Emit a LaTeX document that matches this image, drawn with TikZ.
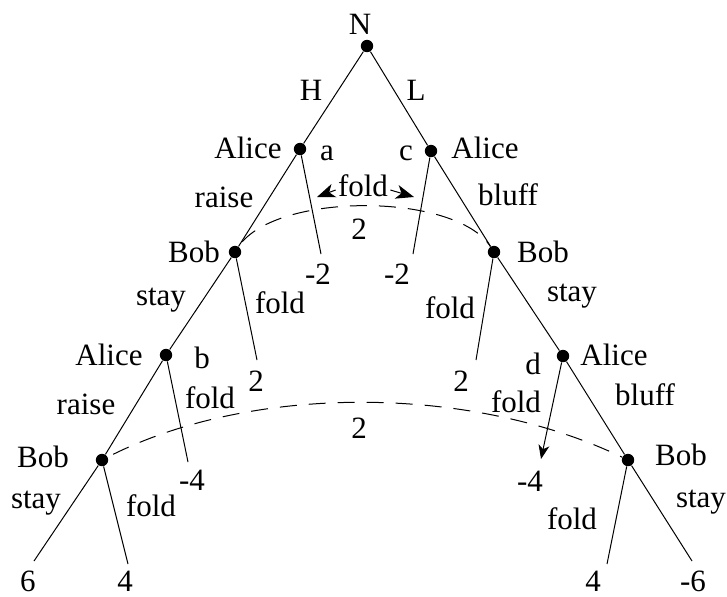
\documentclass[tikz,border=0pt]{standalone}
\usepackage{fontspec}
\setmainfont{Liberation Serif}
\usetikzlibrary{arrows.meta}
\begin{document}
\begin{tikzpicture}[x=0.5pt,y=-0.5pt,
  dot/.style={circle,fill=black,inner sep=0pt,minimum size=6.2pt},
  lbl/.style={inner sep=0pt,font=\fontsize{15.5}{18}\selectfont},
  edge/.style={line width=0.5pt},
  info/.style={line width=0.5pt,dash pattern=on 8.5pt off 6pt,dash phase=-3pt},
  tip/.style={-{Stealth[length=7pt,width=5.5pt,inset=2pt]}},
  bigtip/.style={-{Stealth[length=9pt,width=7pt,inset=2.5pt]}}]
\useasboundingbox (0,0) rectangle (727,596);

% decision nodes
\node[dot] (N)   at (367,46)  {};
\node[dot] (aL)  at (300,149) {};
\node[dot] (aR)  at (431,151) {};
\node[dot] (bL)  at (235,252) {};
\node[dot] (bR)  at (494,252) {};
\node[dot] (aL2) at (166,355) {};
\node[dot] (aR2) at (563,356) {};
\node[dot] (bL2) at (102,460) {};
\node[dot] (bR2) at (628,460) {};

% ends of terminal branches
\coordinate (t1)  at (321,254);
\coordinate (t2)  at (413,254);
\coordinate (t3)  at (257,360);
\coordinate (t4)  at (476,360);
\coordinate (t5)  at (188,462);
\coordinate (t6)  at (541,459);
\coordinate (t7)  at (34,561);
\coordinate (t8)  at (128,564);
\coordinate (t9)  at (607,564);
\coordinate (t10) at (692,561);

% main branches
\draw[edge] (N) -- (aL) -- (bL) -- (aL2) -- (bL2) -- (t7);
\draw[edge] (N) -- (aR) -- (bR) -- (aR2) -- (bR2) -- (t10);
% fold branches
\draw[edge] (aL) -- (t1);
\draw[edge] (aR) -- (t2);
\draw[edge] (bL) -- (t3);
\draw[edge] (bR) -- (t4);
\draw[edge] (aL2) -- (t5);
\draw[edge,tip] (aR2) -- (t6);
\draw[edge] (bL2) -- (t8);
\draw[edge] (bR2) -- (t9);

% information sets
\draw[info] (bL) .. controls (275,192) and (455,192) .. (bR);
\draw[info] (bL2) .. controls (250,384) and (470,384) .. (bR2);

% player and move labels
\node[lbl] (lN)  at (360,24)  {N};
\node[lbl] (lH)  at (311,90)  {H};
\node[lbl] (lL)  at (416,90)  {L};
\node[lbl] (p1)  at (248,148) {Alice};
\node[lbl] (la)  at (327,153) {a};
\node[lbl] (lc)  at (406,153) {c};
\node[lbl] (p2)  at (485,148) {Alice};
\node[lbl] (m1)  at (224,197) {raise};
\node[lbl] (fA)  at (363,186) {fold};
\node[lbl] (m2)  at (508,195) {bluff};
\node[lbl] (v1)  at (359,229) {2};
\node[lbl] (p3)  at (194,252) {Bob};
\node[lbl] (p4)  at (543,252) {Bob};
\node[lbl] (r1)  at (318,274) {-2};
\node[lbl] (r2)  at (397,274) {-2};
\node[lbl] (m3)  at (161,300) {stay};
\node[lbl] (m4)  at (280,303) {fold};
\node[lbl] (m5)  at (450,308) {fold};
\node[lbl] (m6)  at (572,296) {stay};
\node[lbl] (p5)  at (109,355) {Alice};
\node[lbl] (lb)  at (202,358) {b};
\node[lbl] (r3)  at (256,381) {2};
\node[lbl] (r4)  at (461,381) {2};
\node[lbl] (p6)  at (614,355) {Alice};
\node[lbl] (ld)  at (533,364) {d};
\node[lbl] (m7)  at (86,404)  {raise};
\node[lbl] (m8)  at (210,398) {fold};
\node[lbl] (m9)  at (516,402) {fold};
\node[lbl] (m10) at (645,395) {bluff};
\node[lbl] (v2)  at (359,428) {2};
\node[lbl] (p7)  at (43,457)  {Bob};
\node[lbl] (p8)  at (681,455) {Bob};
\node[lbl] (r5)  at (192,480) {-4};
\node[lbl] (r6)  at (530,481) {-4};
\node[lbl] (m11) at (36,503)  {stay};
\node[lbl] (m12) at (151,506) {fold};
\node[lbl] (m13) at (572,519) {fold};
\node[lbl] (m14) at (701,502) {stay};
\node[lbl] (r7)  at (28,581)  {6};
\node[lbl] (r8)  at (125,581) {4};
\node[lbl] (r9)  at (593,581) {4};
\node[lbl] (r10) at (693,581) {-6};

% arrows from the shared fold label
\coordinate (fL) at (317,197);
\coordinate (fR) at (414,197);
\draw[edge,bigtip] ([xshift=-1pt,yshift=-2pt]fA.west) -- (fL);
\draw[edge,bigtip] ([xshift=1pt,yshift=-2pt]fA.east) -- (fR);
\end{tikzpicture}
\end{document}
